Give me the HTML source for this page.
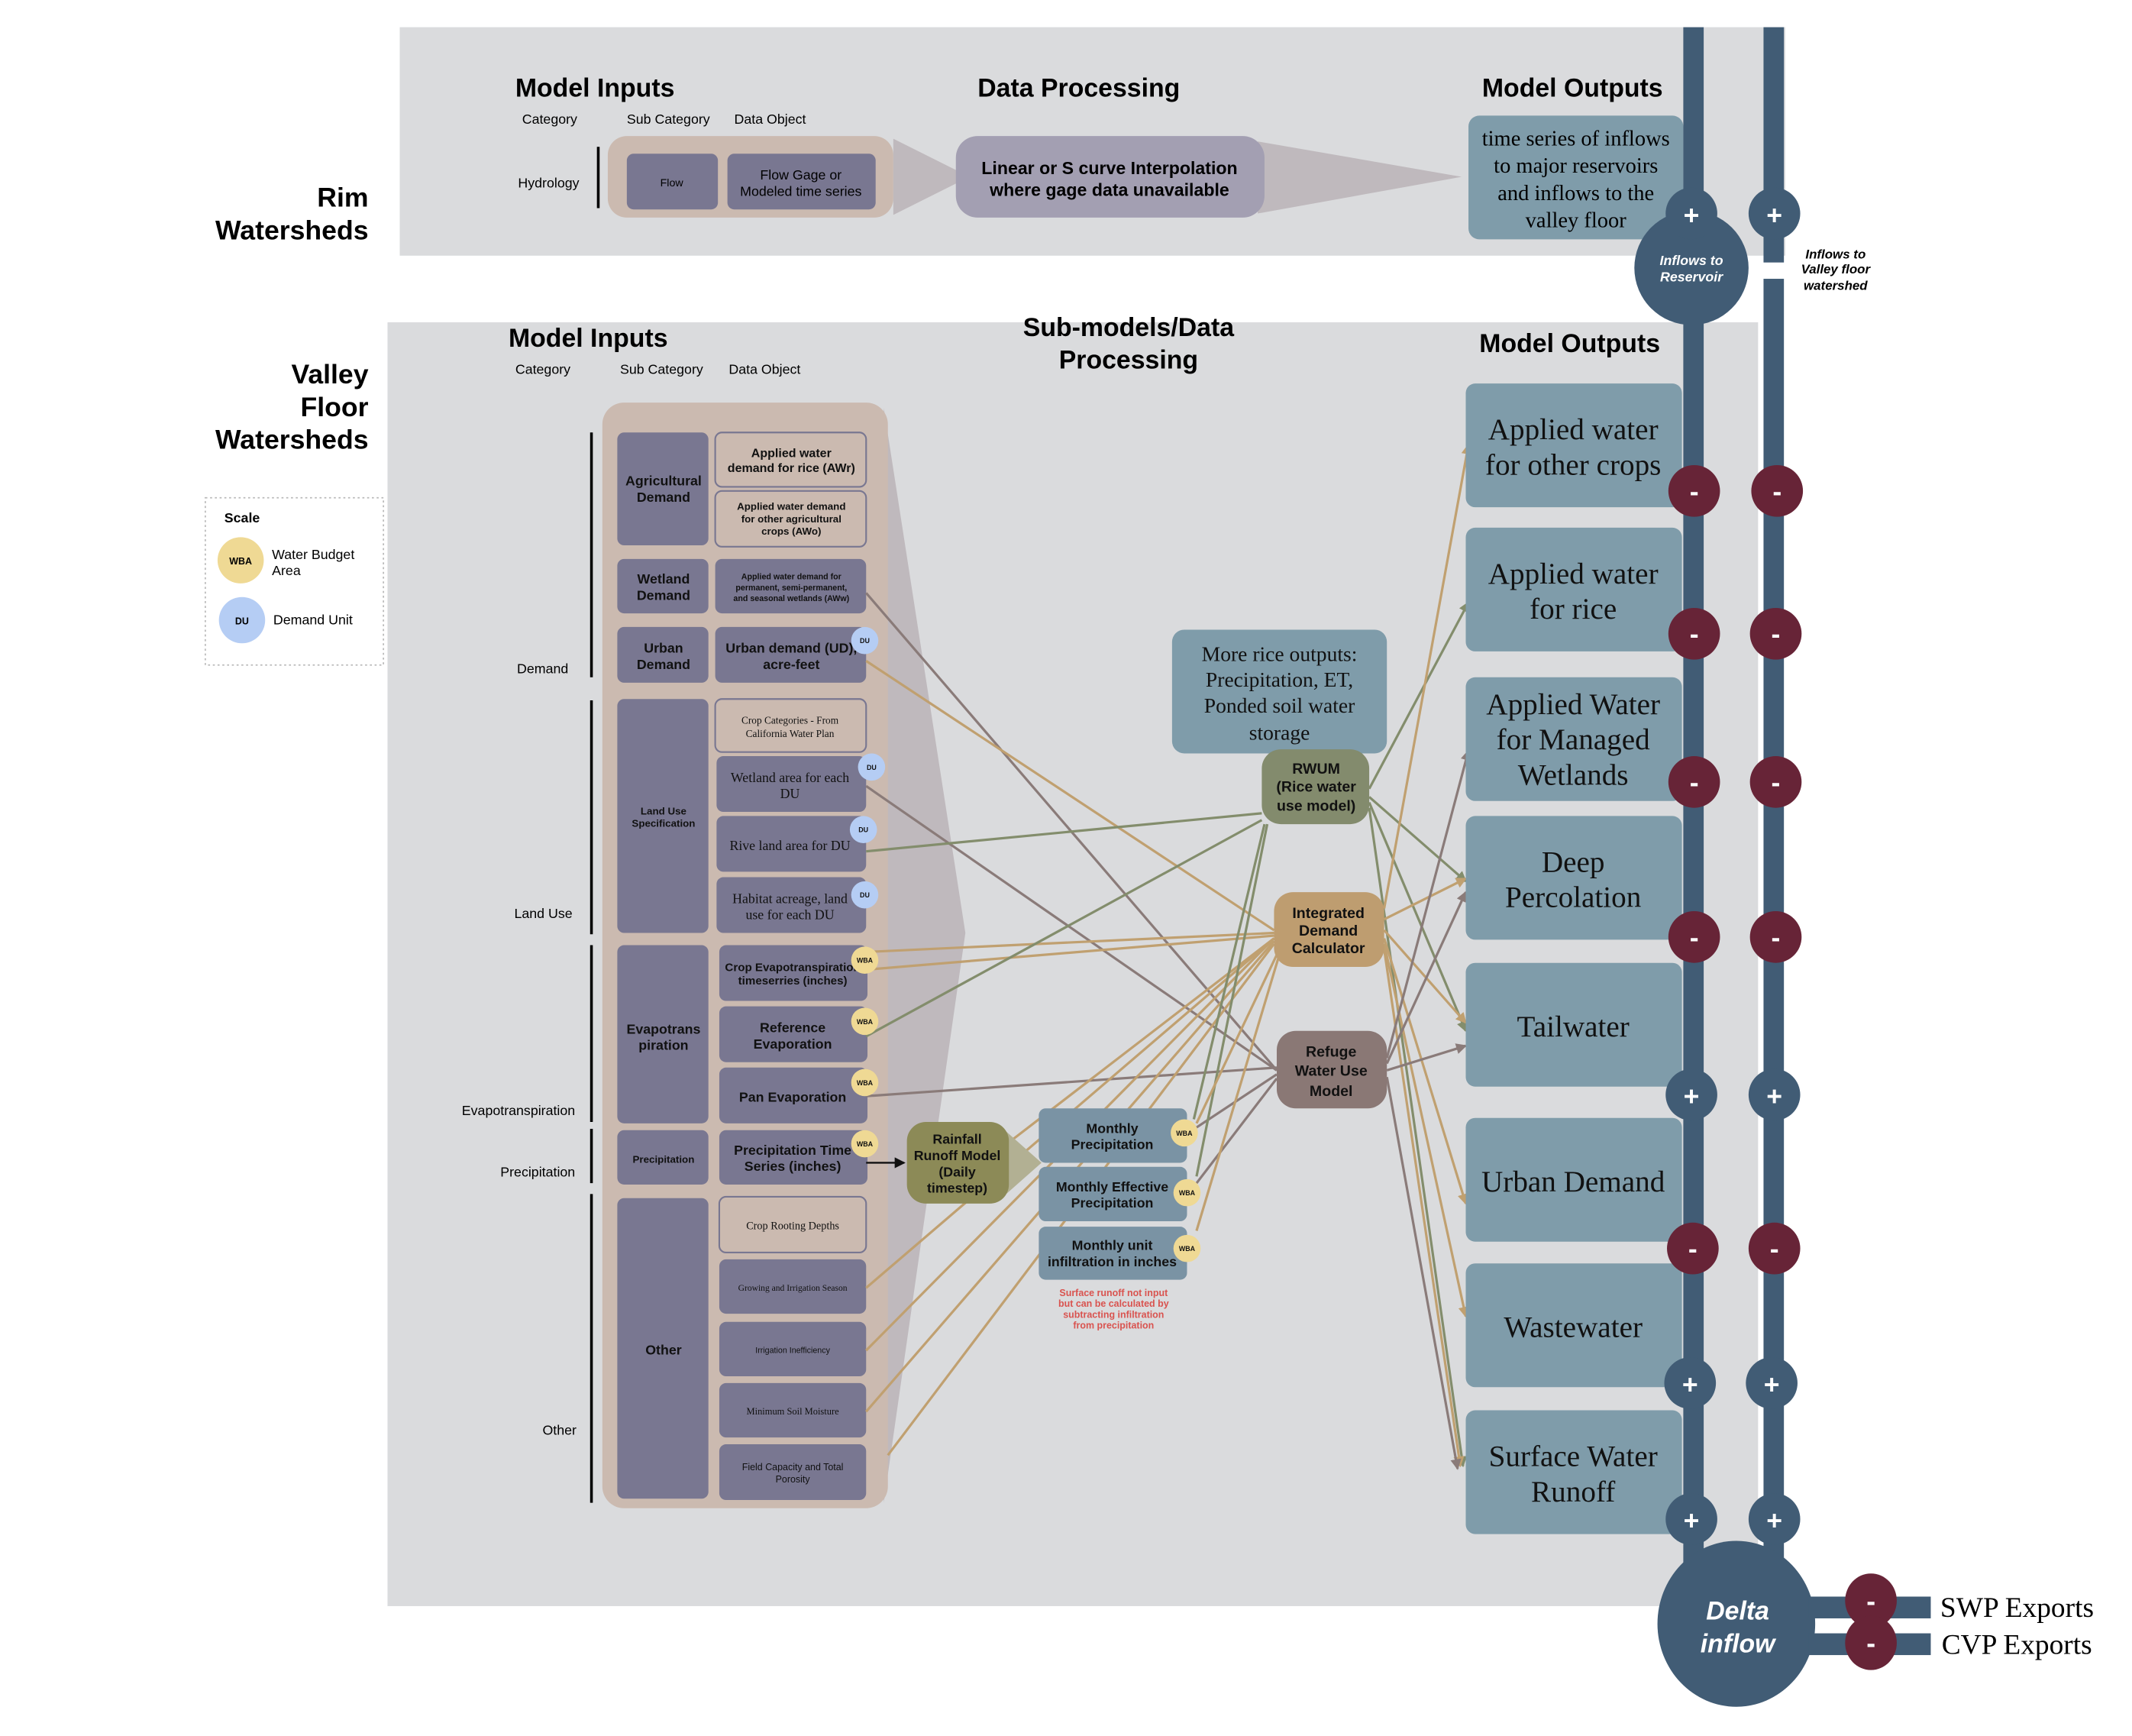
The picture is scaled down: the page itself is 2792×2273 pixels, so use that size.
<!DOCTYPE html>
<html><head><meta charset="utf-8"><style>
html,body{margin:0;padding:0;background:#fff;}
svg{display:block;}
.s{font-family:"Liberation Sans",sans-serif;}
.r{font-family:"Liberation Serif",serif;}
</style></head><body>
<svg width="2792" height="2273" viewBox="0 0 1568 1276.5" preserveAspectRatio="none" xmlns="http://www.w3.org/2000/svg">
<defs>
<marker id="ag" markerWidth="8" markerHeight="8" refX="7" refY="4" orient="auto" markerUnits="userSpaceOnUse"><path d="M0,0 L8,4 L0,8 z" fill="#838d6c"/></marker>
<marker id="at" markerWidth="8" markerHeight="8" refX="7" refY="4" orient="auto" markerUnits="userSpaceOnUse"><path d="M0,0 L8,4 L0,8 z" fill="#c0a070"/></marker>
<marker id="ab" markerWidth="8" markerHeight="8" refX="7" refY="4" orient="auto" markerUnits="userSpaceOnUse"><path d="M0,0 L8,4 L0,8 z" fill="#8a7b79"/></marker>
<marker id="ak" markerWidth="8" markerHeight="8" refX="7" refY="4" orient="auto" markerUnits="userSpaceOnUse"><path d="M0,0 L8,4 L0,8 z" fill="#111"/></marker>
</defs>
<rect x="294" y="20" width="1019" height="168" fill="#dadbdd"/>
<rect x="285" y="237" width="1008" height="944" fill="#dadbdd"/>

<g class="s" font-weight="bold" fill="#000">
<text x="271" y="152" font-size="20" text-anchor="end">Rim</text>
<text x="271" y="176" font-size="20" text-anchor="end">Watersheds</text>
<text x="379" y="71" font-size="19">Model Inputs</text>
<text x="719" y="71" font-size="19">Data Processing</text>
<text x="1090" y="71" font-size="19">Model Outputs</text>
</g>
<g class="s" font-size="10" fill="#000">
<text x="384" y="91">Category</text><text x="461" y="91">Sub Category</text><text x="540" y="91">Data Object</text>
<text x="381" y="138">Hydrology</text>
</g>
<line x1="440" y1="108" x2="440" y2="153" stroke="#000" stroke-width="2"/>
<rect x="447" y="100" width="210" height="60" rx="14" fill="#cbbab0"/>
<polygon points="657,102 713,130 657,158" fill="#bfb9bd"/>
<rect x="461" y="113" width="67" height="41" rx="5" fill="#797791"/>
<rect x="535" y="113" width="109" height="41" rx="5" fill="#797791"/>
<text x="494" y="137" class="s" font-size="8" text-anchor="middle">Flow</text>
<text x="589" y="132" class="s" font-size="10" text-anchor="middle">Flow Gage or</text>
<text x="589" y="144" class="s" font-size="10" text-anchor="middle">Modeled time series</text>
<polygon points="925,104 1075,130 925,157" fill="#bfb9bd"/>
<rect x="703" y="100" width="227" height="60" rx="16" fill="#a39fb2"/>
<text x="816" y="128" class="s" font-size="13" font-weight="bold" text-anchor="middle">Linear or S curve Interpolation</text>
<text x="816" y="144" class="s" font-size="13" font-weight="bold" text-anchor="middle">where gage data unavailable</text>
<rect x="1080" y="85" width="158" height="91" rx="8" fill="#7f9caa"/>
<g class="r" font-size="16" text-anchor="middle">
<text x="1159" y="107">time series of inflows</text>
<text x="1159" y="127">to major reservoirs</text>
<text x="1159" y="147">and inflows to the</text>
<text x="1159" y="167">valley floor</text>
</g>

<g class="s" font-weight="bold" fill="#000">
<text x="271" y="282" font-size="20" text-anchor="end">Valley</text>
<text x="271" y="306" font-size="20" text-anchor="end">Floor</text>
<text x="271" y="330" font-size="20" text-anchor="end">Watersheds</text>
<text x="374" y="255" font-size="19">Model Inputs</text>
<text x="830" y="247" font-size="19" text-anchor="middle">Sub-models/Data</text>
<text x="830" y="271" font-size="19" text-anchor="middle">Processing</text>
<text x="1088" y="259" font-size="19">Model Outputs</text>
</g>
<g class="s" font-size="10" fill="#000">
<text x="379" y="275">Category</text><text x="456" y="275">Sub Category</text><text x="536" y="275">Data Object</text>
<text x="418" y="495" text-anchor="end">Demand</text>
<text x="421" y="675" text-anchor="end">Land Use</text>
<text x="423" y="820" text-anchor="end">Evapotranspiration</text>
<text x="423" y="865" text-anchor="end">Precipitation</text>
<text x="424" y="1055" text-anchor="end">Other</text>
</g>
<g stroke="#000" stroke-width="2">
<line x1="435" y1="318" x2="435" y2="498"/><line x1="435" y1="515" x2="435" y2="687"/>
<line x1="435" y1="695" x2="435" y2="825"/><line x1="435" y1="830" x2="435" y2="870"/>
<line x1="435" y1="878" x2="435" y2="1105"/>
</g>

<rect x="151" y="366" width="131" height="123" fill="#fff" stroke="#bbb" stroke-dasharray="1.5,2"/>
<text x="165" y="384" class="s" font-size="10" font-weight="bold">Scale</text>
<circle cx="177" cy="412" r="17" fill="#efd994"/><text x="177" y="415" class="s" font-size="7" font-weight="bold" text-anchor="middle">WBA</text>
<circle cx="178" cy="456" r="17" fill="#b5cdf4"/><text x="178" y="459" class="s" font-size="7" font-weight="bold" text-anchor="middle">DU</text>
<text x="200" y="411" class="s" font-size="10">Water Budget</text><text x="200" y="423" class="s" font-size="10">Area</text>
<text x="201" y="459" class="s" font-size="10">Demand Unit</text>

<polygon points="650,300 710,686 650,1105" fill="#bfb9bd"/>
<rect x="443" y="296" width="210" height="813" rx="16" fill="#cbbab0"/>
<g fill="#797791">
<rect x="454" y="318" width="67" height="83" rx="5"/>
<rect x="454" y="411" width="67" height="40" rx="5"/>
<rect x="454" y="461" width="67" height="41" rx="5"/>
<rect x="454" y="514" width="67" height="172" rx="5"/>
<rect x="454" y="695" width="67" height="131" rx="5"/>
<rect x="454" y="831" width="67" height="40" rx="5"/>
<rect x="454" y="881" width="67" height="221" rx="5"/>
</g>
<g class="s" font-weight="bold" text-anchor="middle" fill="#111">
<text x="488" y="357" font-size="10">Agricultural</text><text x="488" y="369" font-size="10">Demand</text>
<text x="488" y="429" font-size="10">Wetland</text><text x="488" y="441" font-size="10">Demand</text>
<text x="488" y="480" font-size="10">Urban</text><text x="488" y="492" font-size="10">Demand</text>
<text x="488" y="599" font-size="7.5">Land Use</text><text x="488" y="608" font-size="7.5">Specification</text>
<text x="488" y="760" font-size="10">Evapotrans</text><text x="488" y="772" font-size="10">piration</text>
<text x="488" y="855" font-size="7.5">Precipitation</text>
<text x="488" y="996" font-size="10">Other</text>
</g>
<g fill="#cbbab0" stroke="#797791" stroke-width="1.2">
<rect x="526" y="318" width="111" height="40" rx="5"/>
<rect x="526" y="361" width="111" height="41" rx="5"/>
<rect x="526" y="514" width="111" height="39" rx="5"/>
<rect x="529" y="880" width="108" height="41" rx="5"/>
</g>
<g fill="#797791">
<rect x="526" y="411" width="111" height="40" rx="5"/>
<rect x="526" y="461" width="111" height="41" rx="5"/>
<rect x="527" y="556" width="110" height="41" rx="5"/>
<rect x="527" y="600" width="110" height="41" rx="5"/>
<rect x="527" y="645" width="110" height="41" rx="5"/>
<rect x="529" y="695" width="109" height="41" rx="5"/>
<rect x="529" y="740" width="109" height="41" rx="5"/>
<rect x="529" y="785" width="109" height="41" rx="5"/>
<rect x="529" y="831" width="109" height="40" rx="5"/>
<rect x="529" y="926" width="108" height="40" rx="5"/>
<rect x="529" y="972" width="108" height="40" rx="5"/>
<rect x="529" y="1017" width="108" height="40" rx="5"/>
<rect x="529" y="1062" width="108" height="41" rx="5"/>
</g>
<g class="s" font-weight="bold" text-anchor="middle" fill="#111">
<text x="582" y="336" font-size="9">Applied water</text><text x="582" y="347" font-size="9">demand for rice (AWr)</text>
<text x="582" y="375" font-size="7.5">Applied water demand</text><text x="582" y="384" font-size="7.5">for other agricultural</text><text x="582" y="393" font-size="7.5">crops (AWo)</text>
<text x="582" y="426" font-size="6">Applied water demand for</text><text x="582" y="434" font-size="6">permanent, semi-permanent,</text><text x="582" y="442" font-size="6">and seasonal wetlands (AWw)</text>
<text x="582" y="480" font-size="10">Urban demand (UD),</text><text x="582" y="492" font-size="10">acre-feet</text>
<text x="583" y="714" font-size="8.5">Crop Evapotranspiration</text><text x="583" y="724" font-size="8.5">timeserries (inches)</text>
<text x="583" y="759" font-size="10">Reference</text><text x="583" y="771" font-size="10">Evaporation</text>
<text x="583" y="810" font-size="10">Pan Evaporation</text>
<text x="583" y="849" font-size="10">Precipitation Time</text><text x="583" y="861" font-size="10">Series (inches)</text>
<text x="583" y="995" font-size="6" font-weight="normal">Irrigation Inefficiency</text>
<text x="583" y="1081" font-size="7" font-weight="normal">Field Capacity and Total</text><text x="583" y="1090" font-size="7" font-weight="normal">Porosity</text>
</g>
<g class="r" text-anchor="middle" fill="#111">
<text x="581" y="532" font-size="7.5">Crop Categories - From</text><text x="581" y="542" font-size="7.5">California Water Plan</text>
<text x="581" y="575" font-size="10">Wetland area for each</text><text x="581" y="587" font-size="10">DU</text>
<text x="581" y="625" font-size="10">Rive land area for DU</text>
<text x="581" y="664" font-size="10">Habitat acreage, land</text><text x="581" y="676" font-size="10">use for each DU</text>
<text x="583" y="904" font-size="8">Crop Rooting Depths</text>
<text x="583" y="949" font-size="6.5">Growing and Irrigation Season</text>
<text x="583" y="1040" font-size="7">Minimum Soil Moisture</text>
</g>

<g fill="none" stroke-width="1.8">
<line x1="637" y1="436" x2="939" y2="787" stroke="#8a7b79"/>
<line x1="637" y1="486" x2="937" y2="684" stroke="#c0a070"/>
<line x1="637" y1="578" x2="939" y2="787" stroke="#8a7b79"/>
<line x1="637" y1="626" x2="928" y2="598" stroke="#838d6c"/>
<line x1="637" y1="700" x2="937" y2="686" stroke="#c0a070"/>
<line x1="637" y1="713" x2="937" y2="688" stroke="#c0a070"/>
<line x1="637" y1="762" x2="928" y2="603" stroke="#838d6c"/>
<line x1="637" y1="806" x2="939" y2="785" stroke="#8a7b79"/>
<line x1="637" y1="947" x2="937" y2="690" stroke="#c0a070"/>
<line x1="637" y1="993" x2="937" y2="690" stroke="#c0a070"/>
<line x1="637" y1="1038" x2="937" y2="692" stroke="#c0a070"/>
<line x1="653" y1="1070" x2="937" y2="694" stroke="#c0a070"/>
<line x1="742" y1="840" x2="937" y2="690" stroke="#c0a070"/>
<line x1="878" y1="823" x2="930" y2="606" stroke="#838d6c"/>
<line x1="880" y1="829" x2="939" y2="790" stroke="#8a7b79"/>
<line x1="880" y1="865" x2="932" y2="606" stroke="#838d6c"/>
<line x1="880" y1="870" x2="939" y2="793" stroke="#8a7b79"/>
<line x1="880" y1="826" x2="940" y2="700" stroke="#c0a070"/>
<line x1="880" y1="905" x2="940" y2="705" stroke="#c0a070"/>
</g>
<line x1="637" y1="855" x2="665" y2="855" stroke="#111" stroke-width="1.3" marker-end="url(#ak)"/>

<polygon points="740,832 766,855 740,878" fill="#b2b093"/>
<rect x="667" y="825" width="75" height="60" rx="14" fill="#8c8a57"/>
<g class="s" font-size="10" font-weight="bold" text-anchor="middle" fill="#111">
<text x="704" y="841">Rainfall</text><text x="704" y="853">Runoff Model</text><text x="704" y="865">(Daily</text><text x="704" y="877">timestep)</text>
</g>
<g fill="#7a93a4">
<rect x="764" y="815" width="109" height="40" rx="5"/>
<rect x="764" y="858" width="109" height="40" rx="5"/>
<rect x="764" y="902" width="109" height="39" rx="5"/>
</g>
<g class="s" font-size="10" font-weight="bold" text-anchor="middle" fill="#111">
<text x="818" y="833">Monthly</text><text x="818" y="845">Precipitation</text>
<text x="818" y="876">Monthly Effective</text><text x="818" y="888">Precipitation</text>
<text x="818" y="919">Monthly unit</text><text x="818" y="931">infiltration in inches</text>
</g>
<g class="s" font-size="7" font-weight="bold" text-anchor="middle" fill="#d9534f">
<text x="819" y="953">Surface runoff not input</text><text x="819" y="961">but can be calculated by</text><text x="819" y="969">subtracting infiltration</text><text x="819" y="977">from precipitation</text>
</g>

<g fill="#b5cdf4"><circle cx="636" cy="471" r="10"/><circle cx="641" cy="564" r="10"/><circle cx="635" cy="610" r="10"/><circle cx="636" cy="658" r="10"/></g>
<g fill="#efd994"><circle cx="636" cy="706" r="10"/><circle cx="636" cy="751" r="10"/><circle cx="636" cy="796" r="10"/><circle cx="636" cy="841" r="10"/><circle cx="871" cy="833" r="10"/><circle cx="873" cy="877" r="10"/><circle cx="873" cy="918" r="10"/></g>
<g class="s" font-size="5" font-weight="bold" text-anchor="middle" fill="#111">
<text x="636" y="473">DU</text><text x="641" y="566">DU</text><text x="635" y="612">DU</text><text x="636" y="660">DU</text>
<text x="636" y="708">WBA</text><text x="636" y="753">WBA</text><text x="636" y="798">WBA</text><text x="636" y="843">WBA</text>
<text x="871" y="835">WBA</text><text x="873" y="879">WBA</text><text x="873" y="920">WBA</text>
</g>

<g fill="none" stroke-width="1.8">
<line x1="1007" y1="580" x2="1080" y2="443" stroke="#838d6c" marker-end="url(#ag)"/>
<line x1="1007" y1="586" x2="1078" y2="648" stroke="#838d6c" marker-end="url(#ag)"/>
<line x1="1007" y1="590" x2="1078" y2="758" stroke="#838d6c" marker-end="url(#ag)"/>
<line x1="1007" y1="594" x2="1076" y2="1078" stroke="#838d6c" marker-end="url(#ag)"/>
<line x1="1018" y1="668" x2="1080" y2="327" stroke="#c0a070" marker-end="url(#at)"/>
<line x1="1018" y1="676" x2="1078" y2="646" stroke="#c0a070" marker-end="url(#at)"/>
<line x1="1018" y1="684" x2="1078" y2="752" stroke="#c0a070" marker-end="url(#at)"/>
<line x1="1018" y1="690" x2="1078" y2="885" stroke="#c0a070" marker-end="url(#at)"/>
<line x1="1018" y1="694" x2="1078" y2="968" stroke="#c0a070" marker-end="url(#at)"/>
<line x1="1018" y1="698" x2="1074" y2="1078" stroke="#c0a070" marker-end="url(#at)"/>
<line x1="1020" y1="778" x2="1080" y2="552" stroke="#8a7b79" marker-end="url(#ab)"/>
<line x1="1020" y1="782" x2="1078" y2="656" stroke="#8a7b79" marker-end="url(#ab)"/>
<line x1="1020" y1="787" x2="1078" y2="769" stroke="#8a7b79" marker-end="url(#ab)"/>
<line x1="1020" y1="792" x2="1072" y2="1080" stroke="#8a7b79" marker-end="url(#ab)"/>
</g>

<rect x="862" y="463" width="158" height="91" rx="9" fill="#7f9caa"/>
<g class="r" font-size="15.5" text-anchor="middle" fill="#111">
<text x="941" y="486">More rice outputs:</text><text x="941" y="505">Precipitation, ET,</text><text x="941" y="524">Ponded soil water</text><text x="941" y="544">storage</text>
</g>
<rect x="928" y="551" width="79" height="55" rx="14" fill="#838b6d"/>
<rect x="937" y="656" width="81" height="55" rx="14" fill="#be9d70"/>
<rect x="939" y="758" width="81" height="57" rx="14" fill="#8a7875"/>
<g class="s" font-size="11" font-weight="bold" text-anchor="middle" fill="#111">
<text x="968" y="569">RWUM</text><text x="968" y="582">(Rice water</text><text x="968" y="596">use model)</text>
<text x="977" y="675">Integrated</text><text x="977" y="688">Demand</text><text x="977" y="701">Calculator</text>
<text x="979" y="777">Refuge</text><text x="979" y="791">Water Use</text><text x="979" y="806">Model</text>
</g>

<g fill="#7f9caa">
<rect x="1078" y="282" width="159" height="91" rx="7"/>
<rect x="1078" y="388" width="159" height="91" rx="7"/>
<rect x="1078" y="498" width="159" height="91" rx="7"/>
<rect x="1078" y="600" width="159" height="91" rx="7"/>
<rect x="1078" y="708" width="159" height="91" rx="7"/>
<rect x="1078" y="822" width="159" height="91" rx="7"/>
<rect x="1078" y="929" width="159" height="91" rx="7"/>
<rect x="1078" y="1037" width="159" height="91" rx="7"/>
</g>
<g class="r" font-size="22" text-anchor="middle" fill="#111">
<text x="1157" y="323">Applied water</text><text x="1157" y="349">for other crops</text>
<text x="1157" y="429">Applied water</text><text x="1157" y="455">for rice</text>
<text x="1157" y="525">Applied Water</text><text x="1157" y="551">for Managed</text><text x="1157" y="577">Wetlands</text>
<text x="1157" y="641">Deep</text><text x="1157" y="667">Percolation</text>
<text x="1157" y="762">Tailwater</text>
<text x="1157" y="876">Urban Demand</text>
<text x="1157" y="983">Wastewater</text>
<text x="1157" y="1078">Surface Water</text><text x="1157" y="1104">Runoff</text>
</g>

<g fill="#415c75">
<rect x="1238" y="20" width="15" height="1160"/>
<rect x="1297" y="20" width="15" height="173"/>
<rect x="1297" y="205" width="15" height="975"/>
<circle cx="1244" cy="197" r="42"/>
<circle cx="1244" cy="157" r="19"/><circle cx="1305" cy="157" r="19"/>
<circle cx="1244" cy="805" r="19"/><circle cx="1305" cy="805" r="19"/>
<circle cx="1243" cy="1017" r="19"/><circle cx="1303" cy="1017" r="19"/>
<circle cx="1244" cy="1117" r="19"/><circle cx="1305" cy="1117" r="19"/>
<ellipse cx="1277" cy="1194" rx="58" ry="61"/>
<rect x="1330" y="1174" width="90" height="16"/>
<rect x="1330" y="1201" width="90" height="16"/>
</g>
<g fill="#672437">
<circle cx="1246" cy="361" r="19"/><circle cx="1307" cy="361" r="19"/>
<circle cx="1246" cy="466" r="19"/><circle cx="1306" cy="466" r="19"/>
<circle cx="1246" cy="575" r="19"/><circle cx="1306" cy="575" r="19"/>
<circle cx="1246" cy="689" r="19"/><circle cx="1306" cy="689" r="19"/>
<circle cx="1245" cy="918" r="19"/><circle cx="1305" cy="918" r="19"/>
<ellipse cx="1376" cy="1177" rx="19" ry="20"/><ellipse cx="1376" cy="1208" rx="19" ry="20"/>
</g>
<g class="s" font-size="20" font-weight="bold" text-anchor="middle" fill="#fff">
<text x="1244" y="165">+</text><text x="1305" y="165">+</text>
<text x="1244" y="813">+</text><text x="1305" y="813">+</text>
<text x="1243" y="1025">+</text><text x="1303" y="1025">+</text>
<text x="1244" y="1125">+</text><text x="1305" y="1125">+</text>
<text x="1246" y="368">-</text><text x="1307" y="368">-</text>
<text x="1246" y="473">-</text><text x="1306" y="473">-</text>
<text x="1246" y="582">-</text><text x="1306" y="582">-</text>
<text x="1246" y="696">-</text><text x="1306" y="696">-</text>
<text x="1245" y="925">-</text><text x="1305" y="925">-</text>
<text x="1376" y="1184">-</text><text x="1376" y="1215">-</text>
</g>
<g class="s" font-style="italic" font-weight="bold" text-anchor="middle">
<text x="1244" y="195" font-size="10" fill="#fff">Inflows to</text><text x="1244" y="207" font-size="10" fill="#fff">Reservoir</text>
<text x="1350" y="190" font-size="9.5" fill="#000">Inflows to</text><text x="1350" y="201" font-size="9.5" fill="#000">Valley floor</text><text x="1350" y="213" font-size="9.5" fill="#000">watershed</text>
<text x="1278" y="1191" font-size="19" fill="#fff">Delta</text><text x="1278" y="1215" font-size="19" fill="#fff">inflow</text>
</g>
<text x="1427" y="1189" class="r" font-size="21" fill="#000">SWP Exports</text>
<text x="1428" y="1216" class="r" font-size="21" fill="#000">CVP Exports</text>
</svg>
</body></html>
